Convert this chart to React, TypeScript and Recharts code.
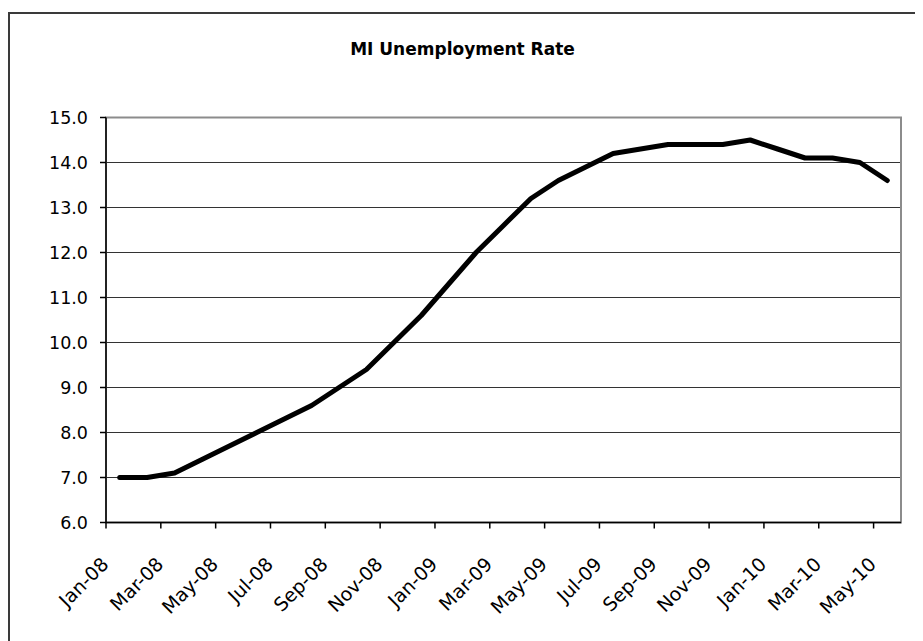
import React from 'react';
import { LineChart, Line, XAxis, YAxis, CartesianGrid, ReferenceArea } from 'recharts';

const months = [
  'Jan-08', 'Feb-08', 'Mar-08', 'Apr-08', 'May-08', 'Jun-08', 'Jul-08', 'Aug-08', 'Sep-08', 'Oct-08', 'Nov-08', 'Dec-08',
  'Jan-09', 'Feb-09', 'Mar-09', 'Apr-09', 'May-09', 'Jun-09', 'Jul-09', 'Aug-09', 'Sep-09', 'Oct-09', 'Nov-09', 'Dec-09',
  'Jan-10', 'Feb-10', 'Mar-10', 'Apr-10', 'May-10',
];
const rate = [
  7.0, 7.0, 7.1, 7.4, 7.7, 8.0, 8.3, 8.6, 9.0, 9.4, 10.0, 10.6,
  11.3, 12.0, 12.6, 13.2, 13.6, 13.9, 14.2, 14.3, 14.4, 14.4, 14.4, 14.5,
  14.3, 14.1, 14.1, 14.0, 13.6,
];
const yTicks = [6, 7, 8, 9, 10, 11, 12, 13, 14, 15];
// tick marks sit on category boundaries, labels on every other month
const boundaryTicks = months.map((_, i) => i).filter(i => i % 2 === 0).map(i => i - 0.5);
const labelTicks = months.map((_, i) => i).filter(i => i % 2 === 0);

const data = months.map((m, i) => ({ i, month: m, rate: rate[i] }));
const FONT = '"DejaVu Sans", sans-serif';

function MonthTick({ x, y, payload }: any) {
  return (
    <g transform={`translate(${x - 10},${y + 42})`}>
      <text x={0} y={0} textAnchor="end" transform="rotate(-45)" fontFamily={FONT} fontSize={19} fill="#000">
        {months[payload.value]}
      </text>
    </g>
  );
}

const NoLabel = () => <g />;

export default function App() {
  return (
    <div style={{ position: 'relative', marginTop: 4, width: 905, height: 627, border: '2px solid #3a3a3a', borderBottom: 'none', background: '#fff' }}>
      <div style={{ position: 'absolute', top: 25, left: 0, width: 905, textAlign: 'center', fontFamily: FONT, fontWeight: 'bold', fontSize: 17, color: '#000' }}>
        MI Unemployment Rate
      </div>
      <LineChart width={905} height={627} data={data} margin={{ top: 103.5, right: 14, bottom: 8.5, left: 0 }}>
        <CartesianGrid vertical={false} stroke="#333" horizontalValues={yTicks.slice(1, -1)} />
        <ReferenceArea xAxisId="a_ticks" x1={-0.5} x2={28.5} y1={6} y2={15} fill="none" stroke="#8c8c8c" strokeWidth={2} />
        <XAxis xAxisId="a_ticks" type="number" dataKey="i" domain={[-0.5, 28.5]} ticks={boundaryTicks} interval={0}
          tick={<NoLabel />} tickSize={6} height={1} axisLine={{ stroke: '#000', strokeWidth: 1.5 }} tickLine={{ stroke: '#000', strokeWidth: 1.5 }} />
        <XAxis xAxisId="b_labels" type="number" dataKey="i" domain={[-0.5, 28.5]} ticks={labelTicks} interval={0}
          tick={<MonthTick />} tickSize={0} tickMargin={0} height={109} axisLine={false} tickLine={false} />
        <YAxis type="number" domain={[6, 15]} ticks={yTicks} interval={0} width={96} tickSize={6} tickMargin={12}
          tickFormatter={(v: number) => v.toFixed(1)} axisLine={{ stroke: '#000', strokeWidth: 1.5 }} tickLine={{ stroke: '#000', strokeWidth: 1.5 }}
          tick={{ fontFamily: FONT, fontSize: 17.5, fill: '#000' }} />
        <Line xAxisId="a_ticks" type="linear" dataKey="rate" stroke="#000" strokeWidth={5} strokeLinejoin="round" strokeLinecap="round"
          dot={false} activeDot={false} isAnimationActive={false} />
      </LineChart>
    </div>
  );
}
